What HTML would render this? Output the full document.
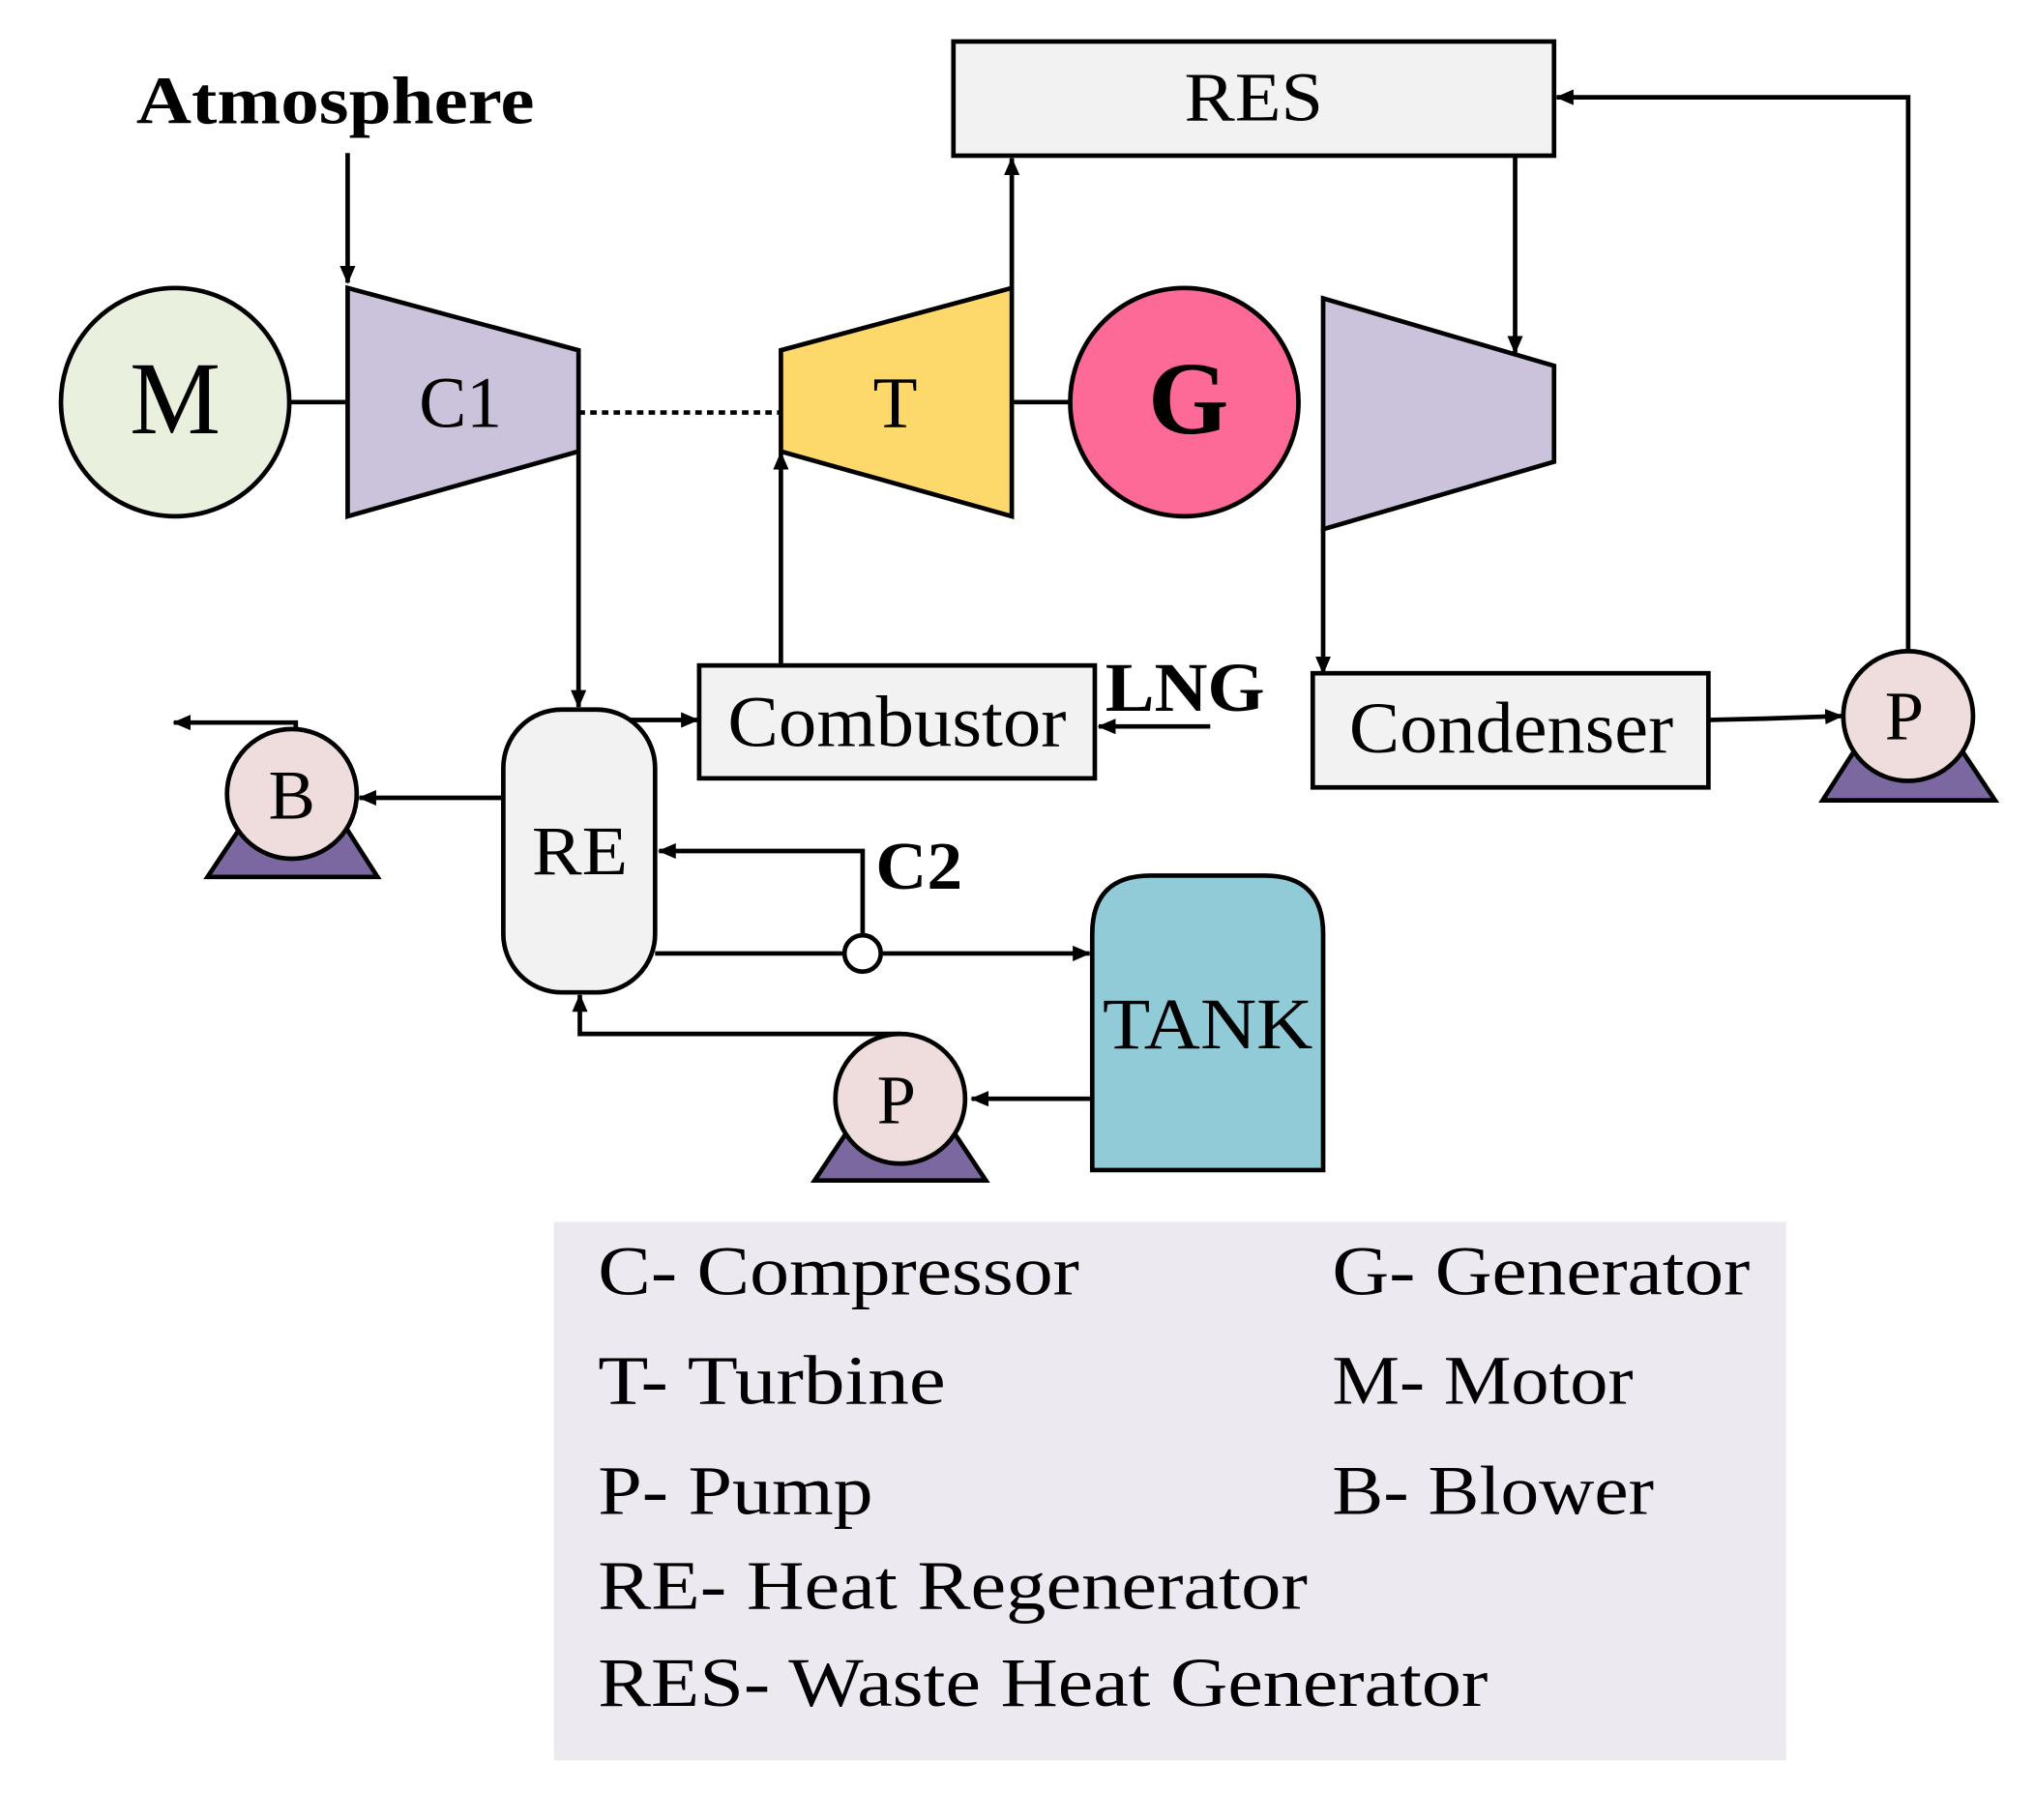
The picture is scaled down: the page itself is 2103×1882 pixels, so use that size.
<!DOCTYPE html>
<html><head><meta charset="utf-8"><style>
html,body{margin:0;padding:0;background:#fff;}
svg{display:block;}
text{font-family:"Liberation Serif",serif;}
</style></head><body>
<svg width="2103" height="1882" viewBox="0 0 1568 1403" preserveAspectRatio="none" xmlns="http://www.w3.org/2000/svg">
<defs>
<marker id="a" markerWidth="14" markerHeight="12" refX="13" refY="6" orient="auto" markerUnits="userSpaceOnUse" viewBox="0 0 14 12">
<path d="M0,0 L14,6 L0,12 z" fill="#000"/></marker>
</defs>
<g stroke="#000" stroke-width="3.5" fill="none">
<line x1="268" y1="118" x2="268" y2="218" marker-end="url(#a)"/>
<line x1="223" y1="310" x2="268" y2="310"/>
<line x1="446" y1="318" x2="602" y2="318" stroke-dasharray="5,4"/>
<line x1="780" y1="310" x2="825" y2="310"/>
<line x1="780" y1="222" x2="780" y2="122" marker-end="url(#a)"/>
<line x1="1168" y1="120" x2="1168" y2="272" marker-end="url(#a)"/>
<line x1="1020" y1="408" x2="1020" y2="519" marker-end="url(#a)"/>
<polyline points="1317,555 1360,554 1420,552" marker-end="url(#a)"/>
<polyline points="1471,502 1471,75 1200,75" marker-end="url(#a)"/>
<line x1="446" y1="348" x2="446" y2="545" marker-end="url(#a)"/>
<line x1="482" y1="555" x2="538" y2="555" marker-end="url(#a)"/>
<line x1="602" y1="513" x2="602" y2="349" marker-end="url(#a)"/>
<line x1="933" y1="560" x2="847" y2="560" marker-end="url(#a)"/>
<line x1="388" y1="615" x2="277" y2="615" marker-end="url(#a)"/>
<polyline points="228,562 228,557 134,557" marker-end="url(#a)"/>
<line x1="505" y1="735" x2="651" y2="735"/>
<line x1="679" y1="735" x2="840" y2="735" marker-end="url(#a)"/>
<polyline points="665,721 665,656 508,656" marker-end="url(#a)"/>
<line x1="842" y1="847" x2="749" y2="847" marker-end="url(#a)"/>
<polyline points="694,797 447,797 447,767" marker-end="url(#a)"/>
</g>
<g stroke="#000" stroke-width="3.5">
<circle cx="135" cy="310" r="88" fill="#e9f0de"/>
<polygon points="268,222 446,270 446,348 268,398" fill="#cbc3db"/>
<polygon points="602,270 780,222 780,398 602,348" fill="#fdd86a"/>
<circle cx="913" cy="310" r="88" fill="#fd6a98"/>
<rect x="735" y="32" width="463" height="88" fill="#f2f2f2"/>
<polygon points="1020,230 1198,282 1198,356 1020,408" fill="#cbc3db"/>
<rect x="1012" y="519" width="305" height="88" fill="#f2f2f2"/>
<rect x="539" y="513" width="305" height="87" fill="#f2f2f2"/>
<rect x="388" y="547" width="117" height="218" rx="45" fill="#f2f2f2"/>
<path d="M842,902 L842,720 Q842,675 887,675 L975,675 Q1020,675 1020,720 L1020,902 Z" fill="#91cbd8"/>
<circle cx="665" cy="735" r="14" fill="#fff"/>
<polygon points="1430,578 1512,578 1538,617 1405,617" fill="#7b68a0"/>
<circle cx="1471" cy="552" r="50" fill="#efdcdc"/>
<polygon points="186,637 266,637 291,676 160,676" fill="#7b68a0"/>
<circle cx="225" cy="612" r="50" fill="#efdcdc"/>
<polygon points="654,871 734,871 760,910 628,910" fill="#7b68a0"/>
<circle cx="694" cy="847" r="50" fill="#efdcdc"/>
</g>
<rect x="427" y="942" width="950" height="415" fill="#ece9f1"/>
<g fill="#000">
<text x="105" y="95" font-size="52" font-weight="bold" textLength="307" lengthAdjust="spacingAndGlyphs">Atmosphere</text>
<text x="100" y="334" font-size="80" textLength="70" lengthAdjust="spacingAndGlyphs">M</text>
<text x="323" y="329" font-size="56" textLength="64" lengthAdjust="spacingAndGlyphs">C1</text>
<text x="673" y="329" font-size="56">T</text>
<text x="885" y="334" font-size="80" font-weight="bold">G</text>
<text x="913" y="93" font-size="54" textLength="107" lengthAdjust="spacingAndGlyphs">RES</text>
<text x="1040" y="580" font-size="56" textLength="250" lengthAdjust="spacingAndGlyphs">Condenser</text>
<text x="561" y="575" font-size="56" textLength="261" lengthAdjust="spacingAndGlyphs">Combustor</text>
<text x="852" y="548" font-size="54" font-weight="bold" textLength="123" lengthAdjust="spacingAndGlyphs">LNG</text>
<text x="410" y="674" font-size="54" textLength="74" lengthAdjust="spacingAndGlyphs">RE</text>
<text x="675" y="685" font-size="52" font-weight="bold" textLength="67" lengthAdjust="spacingAndGlyphs">C2</text>
<text x="850" y="808" font-size="56" textLength="162" lengthAdjust="spacingAndGlyphs">TANK</text>
<text x="1453" y="570" font-size="54">P</text>
<text x="207" y="631" font-size="54">B</text>
<text x="676" y="866" font-size="54">P</text>
</g>
<g fill="#000" font-size="54">
<text x="461" y="998" textLength="371" lengthAdjust="spacingAndGlyphs">C- Compressor</text>
<text x="1027" y="998" textLength="322" lengthAdjust="spacingAndGlyphs">G- Generator</text>
<text x="461" y="1082" textLength="268" lengthAdjust="spacingAndGlyphs">T- Turbine</text>
<text x="1027" y="1082" textLength="232" lengthAdjust="spacingAndGlyphs">M- Motor</text>
<text x="461" y="1167" textLength="212" lengthAdjust="spacingAndGlyphs">P- Pump</text>
<text x="1027" y="1167" textLength="248" lengthAdjust="spacingAndGlyphs">B- Blower</text>
<text x="461" y="1240" textLength="547" lengthAdjust="spacingAndGlyphs">RE- Heat Regenerator</text>
<text x="461" y="1315" textLength="686" lengthAdjust="spacingAndGlyphs">RES- Waste Heat Generator</text>
</g>
</svg>
</body></html>
